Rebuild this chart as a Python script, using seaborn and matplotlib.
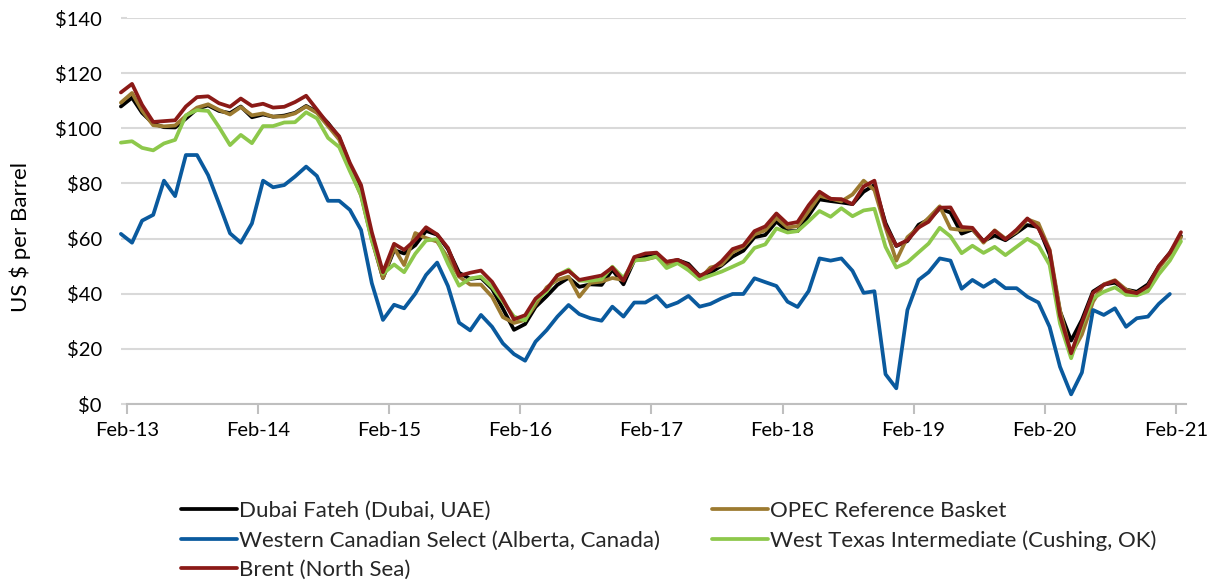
import numpy as np
import pandas as pd
import matplotlib
matplotlib.use("Agg")
import matplotlib.pyplot as plt
import matplotlib.dates as mdates
from matplotlib.lines import Line2D
import seaborn as sns

# ---- data (monthly, Jan-2013 .. Feb-2021) ----
months = pd.date_range("2013-01-01", "2021-02-01", freq="MS") + pd.Timedelta(days=14)

dubai = [107.9, 111.1, 105.6, 101.7, 100.4, 100.3, 103.5, 107.0, 108.3, 106.3, 105.5, 107.9,
         104.0, 105.0, 104.2, 104.6, 105.6, 108.1, 106.0, 101.9, 96.7, 86.8, 76.4, 60.2,
         45.7, 55.8, 54.6, 57.6, 62.8, 61.4, 56.2, 47.6, 45.4, 45.8, 41.8, 34.6,
         26.9, 29.0, 35.2, 39.1, 43.2, 45.8, 42.5, 43.4, 43.2, 48.7, 43.4, 52.1,
         53.7, 54.4, 51.4, 52.2, 50.8, 46.5, 47.6, 50.2, 53.5, 55.6, 60.5, 61.3,
         66.2, 62.7, 62.7, 68.4, 74.2, 73.6, 73.1, 72.5, 77.0, 79.4, 65.6, 57.3,
         59.1, 65.0, 66.9, 70.9, 69.4, 61.8, 63.3, 59.1, 61.1, 59.4, 62.1, 64.9,
         64.2, 54.2, 33.6, 23.0, 30.5, 40.8, 43.3, 44.0, 41.5, 40.7, 43.4, 49.8,
         54.8, 60.9]

opec = [109.3, 112.8, 106.4, 101.1, 100.7, 101.0, 104.5, 107.5, 108.7, 106.7, 105.0, 107.7,
        104.7, 105.4, 104.2, 104.3, 105.4, 107.9, 105.6, 100.8, 95.9, 85.1, 75.6, 59.5,
        45.7, 56.6, 50.4, 62.0, 60.2, 58.9, 53.0, 46.2, 43.3, 43.3, 38.9, 31.5,
        29.4, 30.5, 36.0, 42.3, 45.0, 46.2, 38.9, 43.9, 44.4, 45.7, 45.0, 52.2,
        52.4, 53.4, 50.3, 51.4, 49.2, 45.2, 49.5, 50.5, 55.0, 57.0, 61.5, 63.0,
        67.5, 64.0, 64.5, 70.0, 75.5, 74.5, 73.5, 76.0, 81.0, 77.6, 64.0, 52.0,
        60.5, 64.0, 67.5, 71.7, 63.6, 63.1, 63.5, 58.5, 63.0, 60.0, 62.5, 67.0,
        65.5, 56.0, 34.0, 18.0, 25.2, 37.1, 43.4, 44.9, 41.5, 40.1, 42.6, 49.2,
        54.4, 60.5]

wcs = [61.7, 58.5, 66.5, 68.6, 81.0, 75.4, 90.3, 90.3, 83.0, 72.8, 61.9, 58.5,
       65.5, 81.0, 78.6, 79.4, 82.5, 86.1, 82.7, 73.7, 73.7, 70.4, 63.1, 43.8,
       30.5, 36.0, 34.7, 40.0, 46.8, 51.3, 42.8, 29.5, 26.7, 32.3, 28.0, 22.0,
       18.1, 15.7, 22.6, 26.8, 31.7, 35.9, 32.6, 31.1, 30.2, 35.3, 31.7, 36.8,
       36.8, 39.2, 35.3, 36.8, 39.2, 35.3, 36.3, 38.3, 39.9, 39.9, 45.6, 44.2,
       42.8, 37.1, 35.2, 41.0, 52.8, 52.0, 52.8, 48.3, 40.3, 40.9, 10.8, 5.7,
       34.1, 45.0, 47.8, 52.8, 52.0, 41.8, 45.0, 42.5, 45.0, 42.0, 42.0, 38.9,
       36.8, 28.0, 13.5, 3.5, 11.4, 34.1, 32.3, 34.7, 28.0, 31.1, 31.7, 36.3,
       39.9]

wti = [94.8, 95.3, 92.9, 92.0, 94.5, 95.8, 104.7, 106.6, 106.3, 100.5, 93.9, 97.6,
       94.6, 100.8, 100.8, 102.1, 102.2, 105.8, 103.6, 96.5, 93.2, 84.4, 75.8, 59.3,
       47.2, 50.6, 47.8, 54.5, 59.3, 59.8, 50.9, 42.9, 45.5, 46.2, 42.4, 37.2,
       31.7, 30.3, 37.6, 40.8, 46.7, 48.8, 44.7, 44.7, 45.2, 49.8, 45.7, 52.0,
       52.5, 53.5, 49.3, 51.1, 48.5, 45.2, 46.6, 48.0, 49.8, 51.6, 56.6, 57.9,
       63.7, 62.2, 62.7, 66.3, 70.0, 67.9, 71.0, 68.1, 70.2, 70.8, 57.0, 49.5,
       51.4, 55.0, 58.2, 63.9, 60.8, 54.7, 57.4, 54.8, 57.0, 54.0, 57.0, 59.9,
       57.5, 50.5, 29.2, 16.6, 28.6, 38.3, 40.7, 42.3, 39.6, 39.4, 40.9, 47.0,
       52.0, 59.0]

brent = [113.0, 116.1, 108.5, 102.3, 102.6, 102.9, 107.9, 111.3, 111.6, 109.1, 107.8, 110.8,
         108.1, 108.9, 107.5, 107.8, 109.5, 111.8, 106.8, 101.6, 97.1, 87.4, 79.4, 62.3,
         47.8, 58.1, 55.9, 59.5, 64.1, 61.5, 56.6, 46.5, 47.6, 48.4, 44.3, 38.0,
         30.7, 32.2, 38.2, 41.6, 46.7, 48.3, 45.0, 45.8, 46.6, 49.5, 44.7, 53.3,
         54.6, 54.9, 51.6, 52.3, 50.3, 46.4, 48.5, 51.7, 56.2, 57.5, 62.7, 64.4,
         69.1, 65.3, 66.0, 72.1, 77.0, 74.4, 74.3, 72.5, 78.9, 81.0, 64.8, 57.4,
         59.4, 64.0, 66.1, 71.2, 71.3, 64.2, 63.9, 59.0, 62.8, 59.7, 63.2, 67.3,
         63.7, 55.7, 32.0, 18.4, 29.4, 40.3, 43.2, 44.7, 40.9, 40.2, 42.7, 50.0,
         54.8, 62.3]

series_names = ["Dubai Fateh (Dubai, UAE)",
                "OPEC Reference Basket",
                "Western Canadian Select (Alberta, Canada)",
                "West Texas Intermediate (Cushing, OK)",
                "Brent (North Sea)"]
series_values = [dubai, opec, wcs, wti, brent]
colors = ["#000000", "#9C7A30", "#0A5A9E", "#8DC84B", "#8B1A17"]

y_ticks = [0, 20, 40, 60, 80, 100, 120, 140]
y_labels = ["$0", "$20", "$40", "$60", "$80", "$100", "$120", "$140"]

# ---- long-form table ----
frames = []
for name, vals in zip(series_names, series_values):
    frames.append(pd.DataFrame({"date": months[:len(vals)], "price": vals, "series": name}))
df = pd.concat(frames, ignore_index=True)

sns.set_theme(style="white")
plt.rcParams["font.family"] = ["Lato", "DejaVu Sans"]

fig = plt.figure(figsize=(12.25, 5.85), dpi=100)
ax = fig.add_axes([127/1225, 1 - 404/585, (1186 - 127)/1225, (404 - 18)/585])

palette = dict(zip(series_names, colors))
sns.lineplot(data=df, x="date", y="price", hue="series", hue_order=series_names,
             palette=palette, linewidth=2.7, ax=ax, legend=False, sort=True)
for ln in ax.get_lines():
    ln.set_clip_on(False)
    ln.set_solid_joinstyle("round")

ax.set_ylim(0, 140)
ax.set_xlim(pd.Timestamp("2013-02-01"), pd.Timestamp("2021-03-01"))
ax.set_yticks(y_ticks)
ax.set_yticklabels(y_labels)
ax.xaxis.set_major_locator(mdates.MonthLocator(bymonth=2, bymonthday=1))
ax.xaxis.set_major_formatter(mdates.DateFormatter("%b-%y"))

ax.grid(axis="y", color="#d9d9d9", linewidth=1.5)
ax.grid(axis="x", visible=False)
ax.set_axisbelow(True)
for s in ["top", "right", "left"]:
    ax.spines[s].set_visible(False)
ax.spines["bottom"].set_color("#bfbfbf")
ax.spines["bottom"].set_linewidth(1.5)
ax.tick_params(axis="x", direction="out", length=7, width=1.5, color="#bfbfbf",
               labelsize=14.5, labelcolor="black", pad=6, bottom=True)
ax.tick_params(axis="y", direction="out", length=4, width=1.5, color="#d9d9d9",
               labelsize=14.5, labelcolor="black", pad=14, left=True)
ax.set_xlabel("")
ax.set_ylabel("")
fig.text(20/1225, 1 - 237/585, "US $ per Barrel", rotation=90, ha="center", va="center",
         fontsize=16, color="black")

handles = [Line2D([0], [0], color=c, linewidth=2.7) for c in colors]
col1 = [0, 2, 4]
col2 = [1, 3]
leg_kw = dict(frameon=False, fontsize=16, handlelength=2.5, handletextpad=0.12,
              labelspacing=0.43, borderaxespad=0, borderpad=0)
leg1 = fig.legend([handles[i] for i in col1], [series_names[i] for i in col1],
                  loc="upper left", bbox_to_anchor=(181/1225, 1 - 501/585), **leg_kw)
leg2 = fig.legend([handles[i] for i in col2], [series_names[i] for i in col2],
                  loc="upper left", bbox_to_anchor=(712/1225, 1 - 501/585), **leg_kw)

fig.savefig("out.png", dpi=100)
